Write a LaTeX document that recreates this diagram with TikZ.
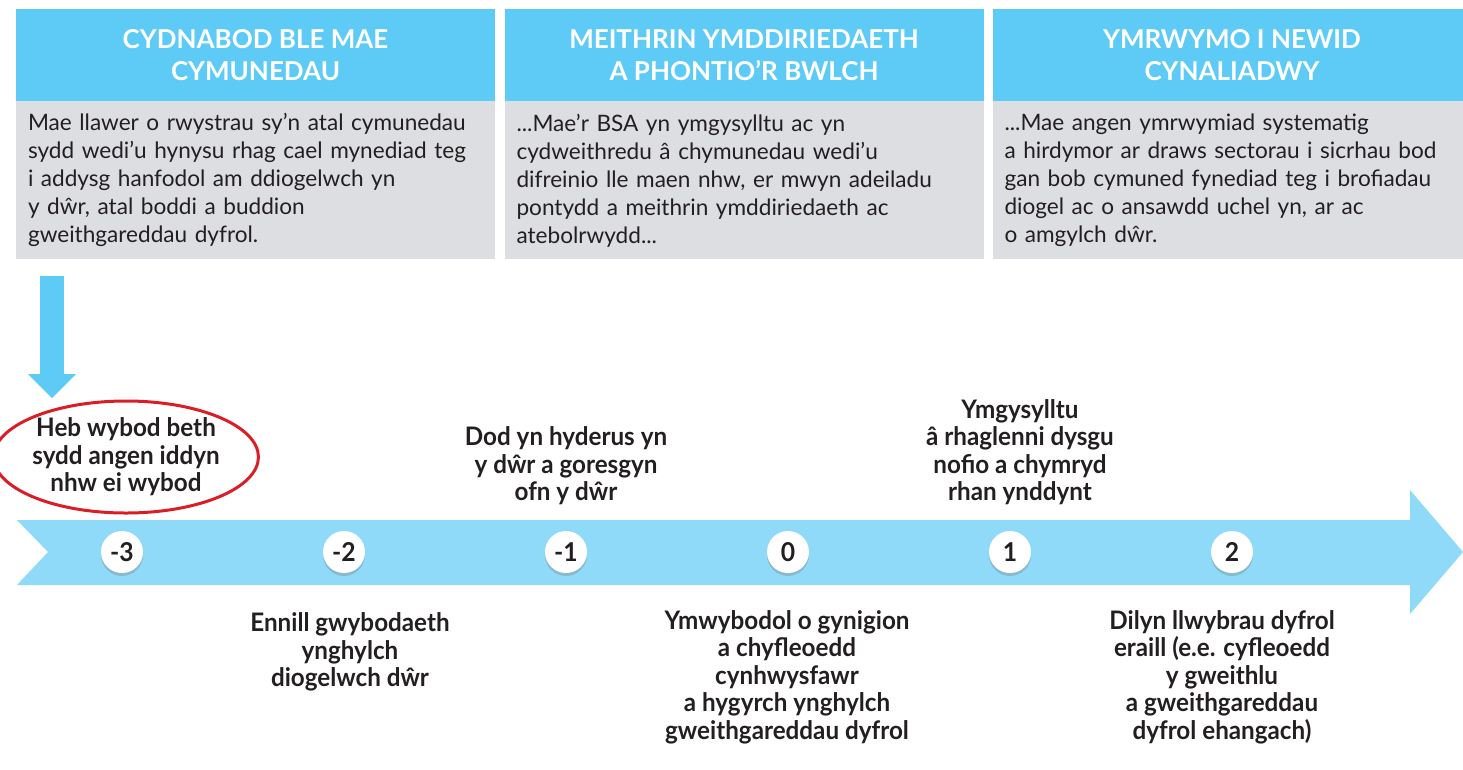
\documentclass[tikz,border=0pt]{standalone}
\usepackage{fontspec}
\setmainfont{Lato}
\newfontfamily\condfont{Lato}[FakeStretch=0.95]
\usetikzlibrary{positioning,shapes.geometric,shadows,arrows.meta}
\definecolor{headblue}{RGB}{94,203,247}
\definecolor{boxgrey}{RGB}{221,222,226}
\definecolor{bandblue}{RGB}{143,218,249}
\definecolor{ringred}{RGB}{218,30,38}
\definecolor{inkgrey}{RGB}{35,31,32}

\begin{document}
\begin{tikzpicture}[x=1pt,y=-1pt,
    head/.style={fill=headblue, text=white, align=center, inner sep=0pt,
      minimum width=479pt, minimum height=92pt,
      font=\bfseries\fontsize{26}{32}\selectfont},
    body/.style={fill=boxgrey, text=inkgrey, align=left, text width=455pt,
      inner xsep=12pt, inner ysep=0pt, minimum height=158pt,
      font=\fontsize{22.6}{28}\selectfont},
    stage/.style={circle, fill=white, minimum size=42pt, inner sep=0pt, text=inkgrey,
      font=\condfont\bfseries\fontsize{26}{26}\selectfont,
      drop shadow={shadow xshift=0pt, shadow yshift=-3pt, opacity=0.35}},
    stagetext/.style={align=center, text=inkgrey,
      font=\condfont\bfseries\fontsize{25.5}{27.5}\selectfont}]

        \clip (0,0) rectangle (1463,769);

        \node[head] (h1) at (255.5,55) {CYDNABOD BLE MAE\\CYMUNEDAU};
        \node[head] (h2) at (744,55) {MEITHRIN YMDDIRIEDAETH\\A PHONTIO’R BWLCH};
        \node[head] (h3) at (1232,55) {YMRWYMO I NEWID\\CYNALIADWY};

        \node[body, below=0pt of h1] (b1) {Mae llawer o rwystrau sy’n atal cymunedau\\sydd wedi’u hynysu rhag cael mynediad teg\\i addysg hanfodol am ddiogelwch yn\\y dŵr, atal boddi a buddion\\gweithgareddau dyfrol.};
        \node[body, below=0pt of h2] (b2) {...Mae’r BSA yn ymgysylltu ac yn\\cydweithredu â chymunedau wedi’u\\difreinio lle maen nhw, er mwyn adeiladu\\pontydd a meithrin ymddiriedaeth ac\\atebolrwydd...};
        \node[body, below=0pt of h3] (b3) {...Mae angen ymrwymiad systematig\\a hirdymor ar draws sectorau i sicrhau bod\\gan bob cymuned fynediad teg i brofiadau\\diogel ac o ansawdd uchel yn, ar ac\\o amgylch dŵr.};

        % timeline band
        \fill[bandblue] (17,520) -- (1410,520) -- (1410,490) -- (1463,552) -- (1410,614)
            -- (1410,585) -- (17,585) -- (48,552) -- cycle;

        \node[stage] (s1) at (122,552) {-3};
        \node[stage] (s2) at (344,552) {-2};
        \node[stage] (s3) at (566,552) {-1};
        \node[stage] (s4) at (788,552) {0};
        \node[stage] (s5) at (1010,552) {1};
        \node[stage] (s6) at (1232,552) {2};

        \node[stagetext, ellipse, draw=ringred, line width=3pt, inner sep=0pt,
            minimum width=252pt, minimum height=112pt] (e1) at (126,457) {Heb wybod beth\\sydd angen iddyn\\nhw ei wybod};
        \node[stagetext] (t3) at (566,466) {Dod yn hyderus yn\\y dŵr a goresgyn\\ofn y dŵr};
        \node[stagetext] (t5) at (1020,452) {Ymgysylltu\\â rhaglenni dysgu\\nofio a chymryd\\rhan ynddynt};
        \node[stagetext] (t2) at (350,652) {Ennill gwybodaeth\\ynghylch\\diogelwch dŵr};
        \node[stagetext] (t4) at (787,677) {Ymwybodol o gynigion\\a chyfleoedd\\cynhwysfawr\\a hygyrch ynghylch\\gweithgareddau dyfrol};
        \node[stagetext] (t6) at (1222,677) {Dilyn llwybrau dyfrol\\eraill (e.e. cyfleoedd\\y gweithlu\\a gweithgareddau\\dyfrol ehangach)};

        \coordinate (a1) at (52,276);
        \coordinate (a2) at (52,398);
        \draw[headblue, line width=24pt, -{Triangle[width=48pt,length=24pt,line width=0pt]}] (a1) -- (a2);

\end{tikzpicture}
\end{document}
